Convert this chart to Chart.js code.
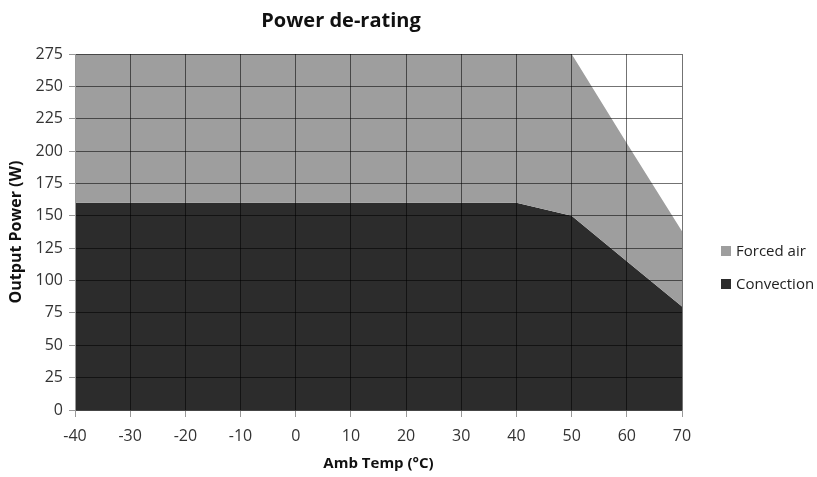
<!DOCTYPE html>
<html>
<head>
<meta charset="utf-8">
<script src="https://cdn.jsdelivr.net/npm/chart.js@4"></script>
<style>
  body { margin: 0; background: #fff; }
  #wrap { position: relative; width: 817px; height: 477px; }
  #legend { position: absolute; left: 721px; top: 240px; font-family: "Open Sans", sans-serif; font-size: 15px; color: #222; }
  #legend div { height: 33px; line-height: 20px; white-space: nowrap; }
  #legend span { display: inline-block; width: 10px; height: 10px; margin-right: 5px; vertical-align: 0px; }
</style>
</head>
<body>
<div id="wrap">
  <canvas id="chart1" width="817" height="477"></canvas>
  <div id="legend"></div>
</div>
<script>
// data
var temps = [-40, -30, -20, -10, 0, 10, 20, 30, 40, 50, 60, 70];
var forcedAir = [275, 275, 275, 275, 275, 275, 275, 275, 275, 275, 206, 138];
var convection = [160, 160, 160, 160, 160, 160, 160, 160, 160, 150, 115, 80];
var seriesNames = ['Forced air', 'Convection'];
var seriesColors = ['#9e9e9e', '#2c2c2c'];

function toPoints(values) {
    var pts = [];
    for (var i = 0; i < temps.length; i++) {
        pts.push({ x: temps[i], y: values[i] });
    }
    return pts;
}

var gridColor = 'rgba(0, 0, 0, 0.55)';
var tickFont = { family: 'Open Sans', size: 16 };

var ctx = document.getElementById('chart1').getContext('2d');
var myChart = new Chart(ctx, {
    type: 'line',
    data: {
        datasets: [{
            label: seriesNames[0],
            data: toPoints(forcedAir),
            backgroundColor: seriesColors[0],
            borderWidth: 0,
            pointRadius: 0,
            fill: '+1'
        }, {
            label: seriesNames[1],
            data: toPoints(convection),
            backgroundColor: seriesColors[1],
            borderWidth: 0,
            pointRadius: 0,
            fill: 'origin'
        }]
    },
    options: {
        responsive: false,
        animation: false,
        layout: { padding: { left: 0, right: 135, top: 0, bottom: 0 } },
        plugins: {
            legend: { display: false },
            tooltip: { enabled: false },
            title: {
                display: true,
                text: 'Power de-rating',
                color: '#111',
                font: { family: 'Open Sans', size: 20, weight: 'bold' },
                padding: { top: 9, bottom: 21 }
            }
        },
        scales: {
            x: {
                type: 'linear',
                min: -40,
                max: 70,
                ticks: { stepSize: 10, color: '#333', font: tickFont, padding: 10, maxRotation: 0 },
                grid: { color: gridColor, tickColor: '#999', tickLength: 7, z: 1 },
                border: { color: '#999', z: 1 },
                title: {
                    display: true,
                    text: 'Amb Temp (°C)',
                    color: '#111',
                    font: { family: 'Open Sans', size: 15, weight: 'bold' },
                    padding: { top: 0, bottom: 4 }
                },
                afterFit: function (scale) { scale.height = 67; }
            },
            y: {
                min: 0,
                max: 275,
                ticks: { stepSize: 25, color: '#333', font: tickFont, padding: 6 },
                grid: { color: gridColor, tickColor: '#999', tickLength: 6, z: 1 },
                border: { color: '#999', z: 1 },
                title: {
                    display: true,
                    text: 'Output Power (W)',
                    color: '#111',
                    font: { family: 'Open Sans', size: 16, weight: 'bold' },
                    padding: { top: 7, bottom: 0 }
                },
                afterFit: function (scale) { scale.width = 75; }
            }
        }
    }
});

// html legend built from the datasets
var legendBox = document.getElementById('legend');
myChart.data.datasets.forEach(function (ds) {
    var row = document.createElement('div');
    var sw = document.createElement('span');
    sw.style.background = ds.backgroundColor;
    row.appendChild(sw);
    row.appendChild(document.createTextNode(ds.label));
    legendBox.appendChild(row);
});
</script>
</body>
</html>
